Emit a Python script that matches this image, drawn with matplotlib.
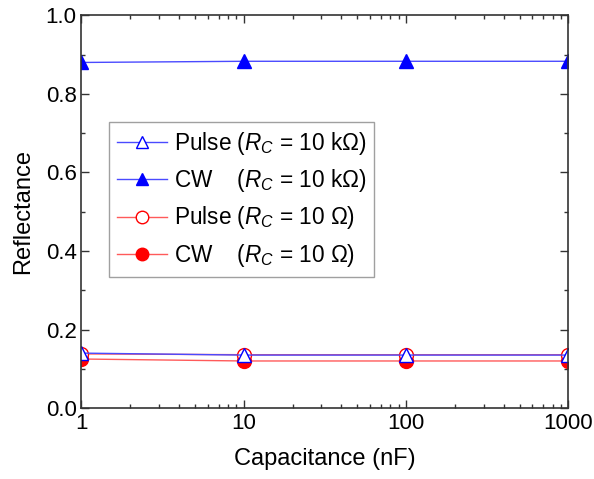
import matplotlib.pyplot as plt
from matplotlib.ticker import MultipleLocator

plt.rcParams['font.family'] = ['Liberation Sans', 'DejaVu Sans']
plt.rcParams['mathtext.fontset'] = 'custom'
plt.rcParams['mathtext.it'] = 'Liberation Sans:italic'
plt.rcParams['mathtext.rm'] = 'Liberation Sans'

# Data
capacitance = [1, 10, 100, 1000]
pulse_10k = [0.140, 0.135, 0.135, 0.135]
cw_10k = [0.880, 0.883, 0.883, 0.883]
pulse_10 = [0.138, 0.136, 0.136, 0.136]
cw_10 = [0.125, 0.120, 0.120, 0.120]

fig, ax = plt.subplots(figsize=(5.94, 4.79), dpi=100)
fig.subplots_adjust(left=0.137, right=0.957, top=0.968, bottom=0.148)

blue_line = '#4a4aff'
red_line = '#ff5a5a'

ax.plot(capacitance, pulse_10k, color=blue_line, lw=1, marker='^', ms=10,
        mfc='white', mec='blue', label=r'Pulse ($R_C$ = 10 k$\Omega$)')
ax.plot(capacitance, cw_10k, color=blue_line, lw=1, marker='^', ms=10,
        mfc='blue', mec='blue', label=r'CW    ($R_C$ = 10 k$\Omega$)')
ax.plot(capacitance, pulse_10, color=red_line, lw=1, marker='o', ms=10,
        mfc='white', mec='red', label=r'Pulse ($R_C$ = 10 $\Omega$)', zorder=1.9)
ax.plot(capacitance, cw_10, color=red_line, lw=1, marker='o', ms=10,
        mfc='red', mec='red', label=r'CW    ($R_C$ = 10 $\Omega$)', zorder=1.8)

ax.set_xscale('log')
ax.set_xlim(1, 1000)
ax.set_ylim(0, 1.0)
ax.set_xticks(capacitance)
ax.set_xticklabels(['1', '10', '100', '1000'])
ax.yaxis.set_major_locator(MultipleLocator(0.2))
ax.yaxis.set_minor_locator(MultipleLocator(0.1))
ax.yaxis.set_major_formatter(plt.FuncFormatter(lambda v, p: f'{v:.1f}'))

ax.tick_params(which='both', direction='in', top=True, right=True,
               labelsize=16, color='#333333')
ax.tick_params(which='major', length=6, width=1)
ax.tick_params(which='minor', length=3, width=1)
for s in ax.spines.values():
    s.set_linewidth(1.2)
    s.set_color('#333333')

ax.set_xlabel('Capacitance (nF)', fontsize=17, labelpad=10)
ax.set_ylabel('Reflectance', fontsize=17, labelpad=8)

leg = ax.legend(loc='upper left', bbox_to_anchor=(0.057, 0.728), fontsize=16.3,
                frameon=True, fancybox=False, edgecolor='#888888',
                handlelength=2.2, handletextpad=0.3, borderpad=0.35,
                labelspacing=0.45, borderaxespad=0, markerscale=0.9)
leg.get_frame().set_linewidth(1)

fig.savefig('out.png')
